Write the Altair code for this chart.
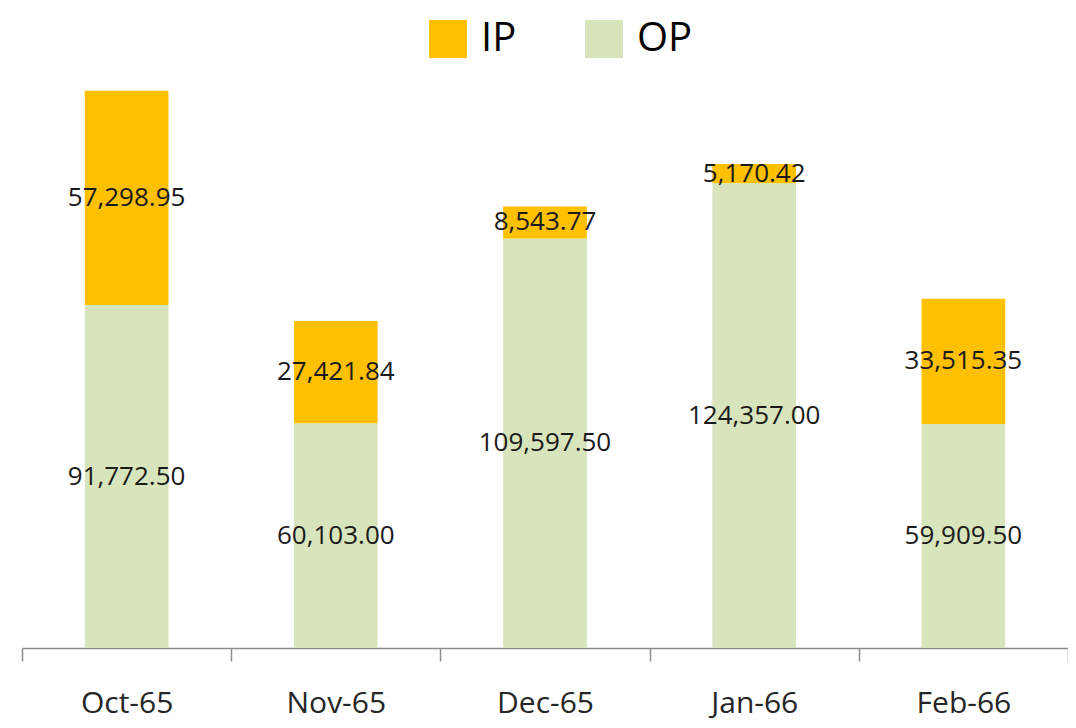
import altair as alt
import pandas as pd

months = ["Oct-65", "Nov-65", "Dec-65", "Jan-66", "Feb-66"]
op_values = [91772.50, 60103.00, 109597.50, 124357.00, 59909.50]
ip_values = [57298.95, 27421.84, 8543.77, 5170.42, 33515.35]
series = ["IP", "OP"]
colors = ["#FFC000", "#D8E4BC"]

rows = []
for m, op, ip in zip(months, op_values, ip_values):
    rows.append({"month": m, "type": "OP", "value": op, "ord": 0})
    rows.append({"month": m, "type": "IP", "value": ip, "ord": 1})
df = pd.DataFrame(rows)

FONT = "Open Sans"

base = alt.Chart(df).transform_stack(
    stack="value", groupby=["month"], as_=["y0", "y1"],
    sort=[alt.SortField("ord", order="ascending")]
).transform_calculate(mid="(datum.y0 + datum.y1) / 2")

x_scale = alt.Scale(paddingInner=0, paddingOuter=0)
x_enc = alt.X("month:N", sort=months, title=None, scale=x_scale,
              axis=alt.Axis(labelAngle=0, labelFontSize=30, labelFont=FONT,
                            labelColor="#262626", domainColor="#8c8c8c",
                            tickColor="#8c8c8c", tickSize=13, tickBand="extent",
                            domainWidth=1.5, tickWidth=1.5,
                            labelPadding=27, grid=False))
y_scale = alt.Scale(domain=[0, 160000], nice=False)

bars = base.mark_bar(width=alt.RelativeBandSize(0.4)).encode(
    x=x_enc,
    y=alt.Y("y0:Q", scale=y_scale, axis=None),
    y2="y1:Q",
    color=alt.Color("type:N", scale=alt.Scale(domain=series, range=colors),
                    legend=alt.Legend(title=None, orient="none", legendX=406, legendY=-31,
                                      direction="horizontal", symbolType="square",
                                      symbolSize=1444, symbolStrokeWidth=0,
                                      labelFontSize=40, labelFont=FONT,
                                      labelColor="#000000", labelOffset=13,
                                      columnPadding=67, symbolOpacity=1)),
)

labels = base.mark_text(fontSize=26, font=FONT, color="#1a1a1a").encode(
    x=alt.X("month:N", sort=months, scale=x_scale),
    y=alt.Y("mid:Q", scale=y_scale),
    text=alt.Text("value:Q", format=",.2f"),
)

chart = (bars + labels).properties(
    width=1046, height=598,
    autosize=alt.AutoSizeParams(type="none"),
    padding={"left": 14, "top": 42, "right": 0, "bottom": 80},
).configure_view(stroke=None)

chart.save("out.html", embed_options={"renderer": "svg", "actions": False})
